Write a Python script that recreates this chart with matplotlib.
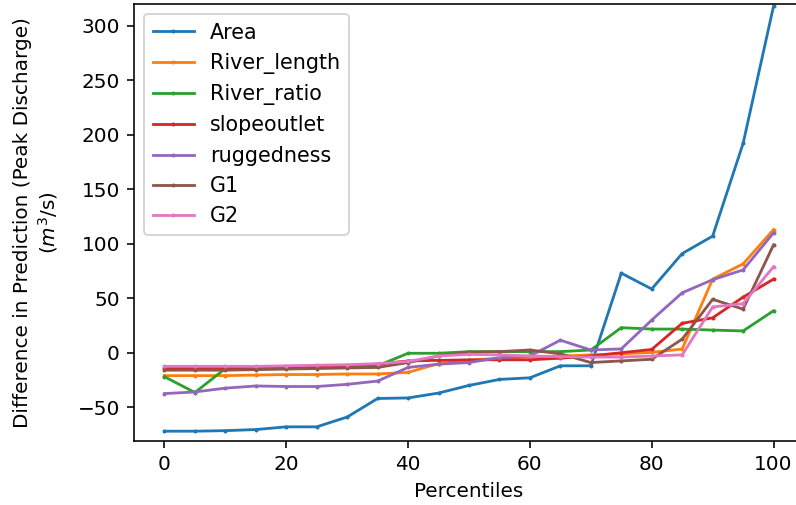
import matplotlib
matplotlib.use("Agg")
import matplotlib.pyplot as plt
import numpy as np


###############################################################################################


percentiles = np.arange(0, 101, 5)

area = [-72, -72, -71.5, -70.5, -68, -68, -59, -42, -41.5, -37, -30,
        -24.5, -23, -12, -12, 73, 58.5, 91, 107, 192, 318]
river_length = [-21, -21, -21, -20.5, -20, -20, -19.5, -19.5, -18, -10, -7,
                 -5, -4, -3, -2, -1, 0.3, 3.4, 67.5, 81.5, 113]
river_ratio = [-22, -36.5, -14.5, -14.5, -14, -13.5, -12.5, -12, -0.5, -0.5, 1,
               1, 1, 1, 2.5, 23, 21.7, 21.7, 20.8, 20, 38.5]
slopeoutlet = [-14, -14, -14, -13.5, -13.5, -13, -12, -10.5, -7.5, -7, -6.5,
               -6.5, -6.5, -5, -3, 0, 3, 27, 32, 51, 67.5]
ruggedness = [-37.5, -36, -32.5, -30.5, -31, -31, -29, -26, -13.5, -10.5, -9,
              -4.5, -3, 11.5, 2.5, 3.5, 30, 55, 67, 76, 110]
g1 = [-16, -16, -16, -15.5, -15, -14.5, -14, -13.5, -9, -3, 0.5,
      1, 2.5, -1, -9, -7.5, -6, 12.5, 49, 40, 99]
g2 = [-12.5, -12.5, -12.5, -12.5, -12, -11.5, -11, -10, -8, -3, -1.5,
      -2, -3, -3.5, -4, -4, -3, -2, 42, 45, 79]

series = {
    "Area": area,
    "River_length": river_length,
    "River_ratio": river_ratio,
    "slopeoutlet": slopeoutlet,
    "ruggedness": ruggedness,
    "G1": g1,
    "G2": g2,
}


###############################################################################################


DPI = 144
fig = plt.figure(figsize=(796 / DPI, 505 / DPI), dpi=DPI)
# axes run a bit past the right edge, like the cropped original
ax = fig.add_axes([134 / 796, 1 - 441 / 505, 670 / 796, 437 / 505])

for name, vals in series.items():
    ax.plot(percentiles, vals, marker='.', markersize=2, linewidth=1.4, label=name)

ax.set_xlim(-5, 105)
ax.set_ylim(-81, 320)
ax.set_xlabel("Percentiles")
ax.set_ylabel("Difference in Prediction (Peak Discharge)\n($m^3$/s)", labelpad=9)
ax.legend(loc="upper left", fontsize=10.3)

fig.savefig("out.png", dpi=DPI)
